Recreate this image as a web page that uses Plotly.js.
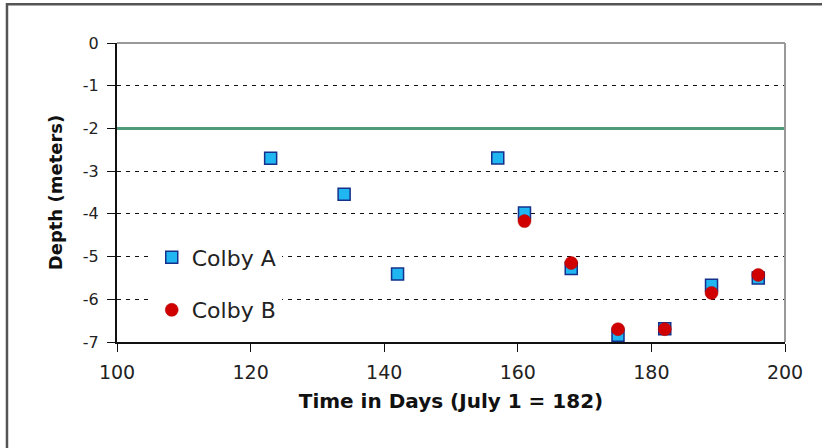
<!DOCTYPE html>
<html><head><meta charset="utf-8">
<script src="https://cdn.plot.ly/plotly-3.0.1.min.js"></script>
<style>html,body{margin:0;padding:0;background:#fff}#chart{width:822px;height:448px}</style>
</head><body><div id="chart"></div>
<script>
const daysA = [123, 134, 142, 157, 161, 168, 175, 182, 189, 196];
const depthA = [-2.7, -3.54, -5.41, -2.69, -3.98, -5.28, -6.84, -6.69, -5.67, -5.5];
const daysB = [161, 168, 175, 182, 189, 196];
const depthB = [-4.17, -5.15, -6.7, -6.7, -5.85, -5.43];
const refDays = [100, 200];
const refDepth = [-2, -2];
const xTicks = [100, 120, 140, 160, 180, 200];
const yTicks = [0, -1, -2, -3, -4, -5, -6, -7];
const yTickText = ['0', '-1', '-2', '-3', '-4', '-5', '-6', '-7'];

const font = 'DejaVu Sans, Verdana, sans-serif';
const traces = [
  {x: refDays, y: refDepth, mode: 'lines', line: {color: '#4f9a78', width: 3}, showlegend: false, hoverinfo: 'skip'},
  {x: daysA, y: depthA, mode: 'markers', name: 'Colby A', legendgroup: 'a',
   marker: {symbol: 'square', size: 12, color: '#1fb6f2', line: {color: '#15308a', width: 1.5}}},
  {x: daysB, y: depthB, mode: 'markers', name: 'Colby B', legendgroup: 'b',
   marker: {symbol: 'circle', size: 13, color: '#d00000', line: {color: '#b00000', width: 0.5}}}
];
const layout = {
  width: 822, height: 448,
  margin: {l: 117, r: 37, t: 43, b: 106},
  paper_bgcolor: '#fff', plot_bgcolor: '#fff',
  font: {family: font, color: '#222', size: 16},
  showlegend: true,
  legend: {x: 0.052, y: 0.353, xanchor: 'left', yanchor: 'top', bgcolor: '#fff',
           font: {family: font, size: 22, color: '#222'}, traceorder: 'grouped', tracegroupgap: 21,
           itemwidth: 30},
  xaxis: {range: [100, 200], tickvals: xTicks, ticks: 'outside', ticklen: 8, tickcolor: '#111',
          showline: true, linecolor: '#111', linewidth: 2, showgrid: false, zeroline: false,
          ticklabelstandoff: 4,
          tickfont: {family: font, size: 19, color: '#222'},
          title: {text: '<b>Time in Days (July 1 = 182)</b>', font: {family: font, size: 20, color: '#111'}, standoff: 12}},
  yaxis: {range: [-7, 0], tickvals: yTicks, ticktext: yTickText, ticks: 'outside', ticklen: 8, tickcolor: '#111',
          showline: true, linecolor: '#111', linewidth: 2, showgrid: true, gridcolor: '#111', gridwidth: 1,
          griddash: '4px,5px', zeroline: false, ticklabelstandoff: 5,
          tickfont: {family: font, size: 16, color: '#222'},
          title: {text: '<b>Depth (meters)</b>', font: {family: font, size: 18, color: '#111'}, standoff: 16}},
  shapes: [
    {type: 'line', xref: 'paper', yref: 'paper', x0: 0, x1: 1, y0: 1, y1: 1, line: {color: '#999', width: 2}, layer: 'above'},
    {type: 'line', xref: 'paper', yref: 'paper', x0: 1, x1: 1, y0: 0, y1: 1, line: {color: '#999', width: 2}, layer: 'above'},
    {type: 'rect', xref: 'paper', yref: 'paper', x0: -0.1647, x1: 1.1, y0: -0.4, y1: 1.13, line: {color: '#555', width: 2.5}, layer: 'above'}
  ]
};
Plotly.newPlot('chart', traces, layout, {displayModeBar: false, staticPlot: true});
</script></body></html>
